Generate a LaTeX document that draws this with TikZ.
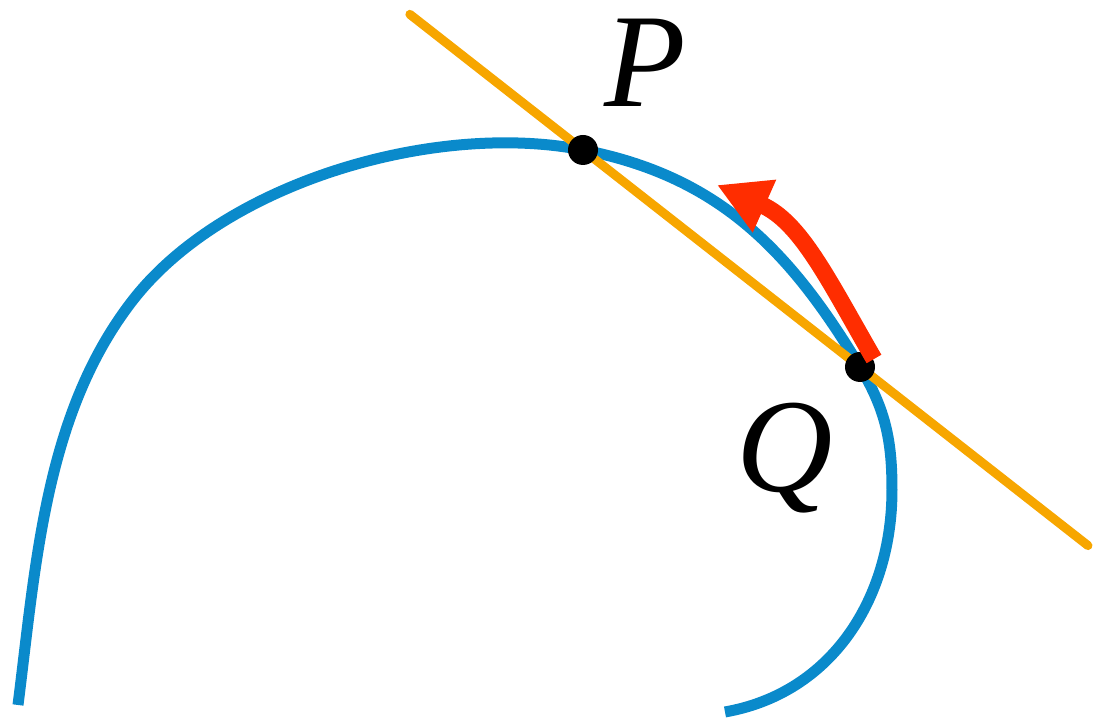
\documentclass[tikz,border=0pt]{standalone}
\usepackage{fontspec}
\setmainfont{Liberation Serif}
\usetikzlibrary{arrows.meta,calc}
\definecolor{curve-blue}{HTML}{0A8ACB}
\definecolor{secant-orange}{HTML}{F7A600}
\definecolor{arrow-red}{HTML}{FF2D00}
\begin{document}
\begin{tikzpicture}[
    curve/.style={draw=curve-blue, line width=0.11cm},
    secant/.style={draw=secant-orange, line width=0.09cm, line cap=round},
    move/.style={draw=arrow-red, line width=0.17cm, -{Triangle[length=0.52cm, width=0.54cm]}},
    dot/.style={circle, fill=black, inner sep=0pt, minimum size=0.30cm},
    lbl/.style={anchor=base, inner sep=0pt, font=\fontsize{38}{40}\selectfont\itshape}
]
\useasboundingbox (0,0) rectangle (10.93,7.20);

\coordinate (A) at (0.18,0.15);
\coordinate (M) at (1.33,4.20);
\coordinate (P) at (5.83,5.70);
\coordinate (Q) at (8.60,3.53);
\coordinate (R) at (8.92,2.30);
\coordinate (B) at (7.25,0.08);

% the curve
\draw[curve] (A) .. controls (0.36,1.57) and (0.45,3.07) .. (M)
    .. controls (2.25,5.38) and (4.36,5.99) .. (P)
    to[out=-11,in=121] (Q)
    to[out=-59,in=90] (R) to[out=-90,in=10] (B);

% secant through P and Q
\draw[secant] ($(P)!-0.625!(Q)$) -- ($(P)!1.823!(Q)$);

\node[dot] (dotP) at (P) {};
\node[dot] (dotQ) at (Q) {};

% Q moves towards P
\coordinate (S) at (8.74,3.61);
\coordinate (T) at (7.17,5.35);
\draw[move] (S) to[out=120,in=-24] (T);

\node[lbl] (labP) at (6.45,6.13) {P};
\node[lbl] (labQ) at (7.85,2.28) {Q};
\end{tikzpicture}
\end{document}
